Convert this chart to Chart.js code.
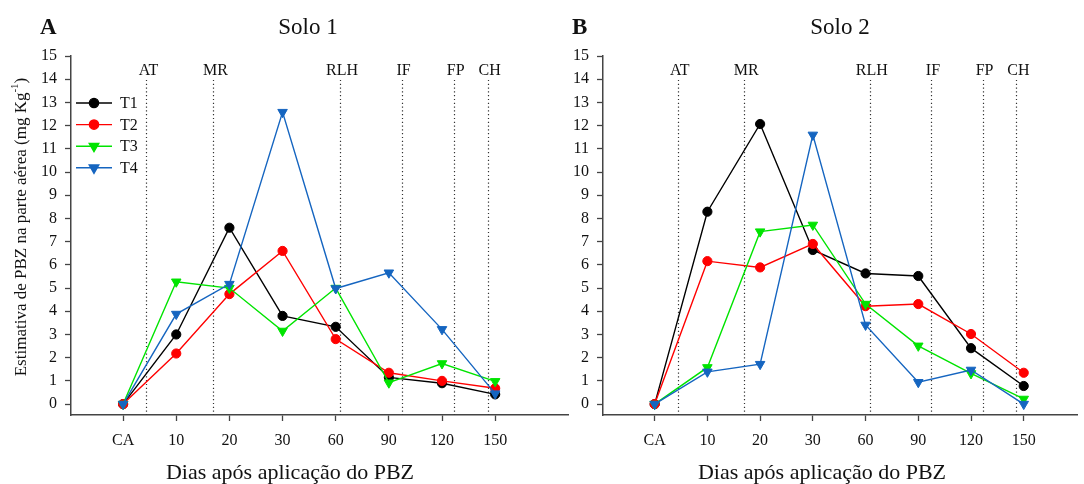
<!DOCTYPE html>
<html>
<head>
<meta charset="utf-8">
<script src="https://cdn.jsdelivr.net/npm/chart.js@4.4.1/dist/chart.umd.min.js"></script>
<style>
  body { margin: 0; background: #fff; }
  #wrap { position: relative; width: 1084px; height: 484px; overflow: hidden; }
  canvas { position: absolute; top: 0; }
</style>
</head>
<body>
<div id="wrap">
  <canvas id="solo1" width="580" height="484" style="left:0"></canvas>
  <canvas id="solo2" width="542" height="484" style="left:542px"></canvas>
</div>
<script>
// days after PBZ application (category positions 0..7)
const xLabels = ["CA", "10", "20", "30", "60", "90", "120", "150"];
const yTicks = [0, 1, 2, 3, 4, 5, 6, 7, 8, 9, 10, 11, 12, 13, 14, 15];

// phenological stages, placed between the sampling days
const stageNames = ["AT", "MR", "RLH", "IF", "FP", "CH"];
const stageAt = [0.44, 1.70, 4.08, 5.24, 6.22, 6.86];

const seriesNames = ["T1", "T2", "T3", "T4"];

// Solo 1
const solo1T1 = [0, 3.0, 7.6, 3.8, 3.33, 1.15, 0.9, 0.42];
const solo1T2 = [0, 2.18, 4.74, 6.6, 2.8, 1.35, 1.0, 0.68];
const solo1T3 = [0, 5.27, 5.0, 3.15, 5.0, 0.92, 1.75, 0.98];
const solo1T4 = [0, 3.88, 5.17, 12.58, 4.98, 5.66, 3.22, 0.45];

// Solo 2
const solo2T1 = [0, 8.29, 12.07, 6.64, 5.63, 5.52, 2.41, 0.78];
const solo2T2 = [0, 6.16, 5.89, 6.9, 4.22, 4.31, 3.02, 1.35];
const solo2T3 = [0, 1.58, 7.43, 7.72, 4.31, 2.51, 1.32, 0.22];
const solo2T4 = [0, 1.39, 1.72, 11.6, 3.41, 0.94, 1.47, 0.0];

const colors = ["#000000", "#ff0000", "#00e400", "#1565c0"];
const shapes = ["circle", "circle", "triangle", "triangle"];
const serif = "'Liberation Serif', 'DejaVu Serif', serif";
const axisColor = "#444";

function makeDatasets(series) {
  return series.map((values, i) => ({
    label: seriesNames[i],
    data: values.map((v, k) => ({ x: k, y: v })),
    borderColor: colors[i],
    backgroundColor: colors[i],
    borderWidth: 1.4,
    pointStyle: shapes[i],
    pointRotation: shapes[i] === "triangle" ? 180 : 0,
    pointRadius: shapes[i] === "triangle" ? 5.5 : 4.6,
    pointBorderWidth: 1,
    tension: 0,
    order: 4 - i
  }));
}

function panelText(opts) {
  return {
    id: "panelText",
    beforeDatasetsDraw(chart) {
      const { ctx, chartArea, scales } = chart;
      const top = scales.y.getPixelForValue(13.97);
      ctx.save();
      ctx.strokeStyle = "#333";
      ctx.lineWidth = 1.2;
      ctx.setLineDash([1.2, 2.6]);
      stageAt.forEach(pos => {
        const x = Math.round(scales.x.getPixelForValue(pos)) + 0.5;
        ctx.beginPath();
        ctx.moveTo(x, top);
        ctx.lineTo(x, chartArea.bottom);
        ctx.stroke();
      });
      ctx.restore();
    },
    afterDraw(chart) {
      const { ctx, chartArea, scales } = chart;
      ctx.save();
      ctx.fillStyle = "#111";

      // stage labels above the dotted lines
      ctx.font = "16px " + serif;
      ctx.textAlign = "center";
      ctx.textBaseline = "middle";
      stageAt.forEach((pos, i) => {
        ctx.fillText(stageNames[i], scales.x.getPixelForValue(pos) + 2, 71);
      });

      // panel letter and title
      ctx.font = "bold 23px " + serif;
      ctx.textAlign = "left";
      ctx.fillText(opts.letter, chartArea.left - 31, 28);
      ctx.font = "23px " + serif;
      ctx.textAlign = "center";
      ctx.fillText(opts.title, chartArea.left + 237, 28);

      // x axis title
      ctx.font = "22px " + serif;
      ctx.fillText("Dias após aplicação do PBZ", chartArea.left + 219, 473);

      if (opts.yTitle) {
        ctx.save();
        ctx.translate(22, 227);
        ctx.rotate(-Math.PI / 2);
        const main = "Estimativa de PBZ na parte aérea (mg Kg";
        ctx.font = "17px " + serif;
        const wMain = ctx.measureText(main).width;
        ctx.font = "11px " + serif;
        const wSup = ctx.measureText("-1").width;
        ctx.font = "17px " + serif;
        const wEnd = ctx.measureText(")").width;
        let x = -(wMain + wSup + wEnd) / 2;
        ctx.textAlign = "left";
        ctx.fillText(main, x, 0);
        x += wMain;
        ctx.font = "11px " + serif;
        ctx.fillText("-1", x, -7);
        x += wSup;
        ctx.font = "17px " + serif;
        ctx.fillText(")", x, 0);
        ctx.restore();
      }

      if (opts.legend) {
        const rowY = [103, 124.6, 146.2, 167.8];
        chart.data.datasets.forEach((ds, i) => {
          const y = rowY[i];
          ctx.strokeStyle = ds.borderColor;
          ctx.fillStyle = ds.backgroundColor;
          ctx.lineWidth = 1.4;
          ctx.beginPath();
          ctx.moveTo(76, y);
          ctx.lineTo(112, y);
          ctx.stroke();
          Chart.helpers.drawPoint(ctx, {
            pointStyle: ds.pointStyle,
            rotation: ds.pointRotation,
            radius: ds.pointRadius,
            borderWidth: 1
          }, 94, y);
          ctx.fillStyle = "#111";
          ctx.font = "16px " + serif;
          ctx.textAlign = "left";
          ctx.fillText(ds.label, 120, y + 1);
        });
      }
      ctx.restore();
    }
  };
}

function createPanel(id, series, opts) {
  const ctx = document.getElementById(id).getContext("2d");
  return new Chart(ctx, {
    type: "line",
    data: { datasets: makeDatasets(series) },
    options: {
      responsive: false,
      animation: false,
      layout: { padding: { left: 0, top: 56, right: opts.padRight, bottom: 0 } },
      plugins: { legend: { display: false }, tooltip: { enabled: false } },
      scales: {
        x: {
          type: "linear",
          min: opts.xMin,
          max: opts.xMax,
          afterBuildTicks: s => { s.ticks = xLabels.map((_, k) => ({ value: k })); },
          afterFit: s => { s.height = 69; },
          ticks: {
            autoSkip: false,
            maxRotation: 0,
            padding: 10,
            color: "#111",
            font: { family: serif, size: 16 },
            callback: v => xLabels[v]
          },
          grid: { drawOnChartArea: false, tickLength: 6, tickColor: axisColor, tickWidth: 1.3 },
          border: { display: true, color: axisColor, width: 1.5 }
        },
        y: {
          type: "linear",
          min: -0.47,
          max: 15,
          afterBuildTicks: s => { s.ticks = yTicks.map(v => ({ value: v })); },
          afterFit: s => { s.width = opts.yWidth; },
          ticks: {
            padding: 8,
            color: "#111",
            font: { family: serif, size: 16 }
          },
          grid: { drawOnChartArea: false, tickLength: 6, tickColor: axisColor, tickWidth: 1.3 },
          border: { display: true, color: axisColor, width: 1.5 }
        }
      }
    },
    plugins: [panelText(opts)]
  });
}

createPanel("solo1", [solo1T1, solo1T2, solo1T3, solo1T4], {
  letter: "A", title: "Solo 1", yTitle: true, legend: true,
  yWidth: 71, padRight: 12, xMin: -0.98, xMax: 8.37
});
createPanel("solo2", [solo2T1, solo2T2, solo2T3, solo2T4], {
  letter: "B", title: "Solo 2", yTitle: false, legend: false,
  yWidth: 61, padRight: 4, xMin: -0.98, xMax: 8.02
});
</script>
</body>
</html>
